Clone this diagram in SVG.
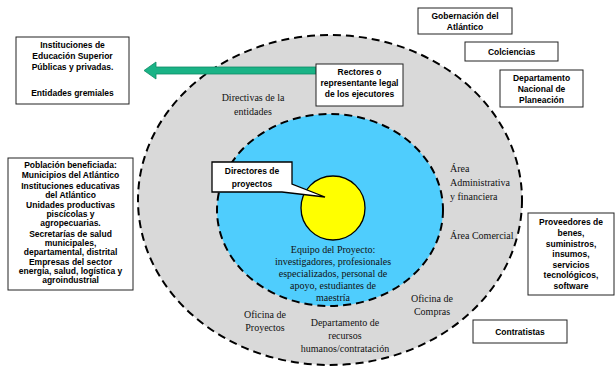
<svg xmlns="http://www.w3.org/2000/svg" width="616" height="368" viewBox="0 0 616 368">
<style>
.box{fill:#fff;stroke:#222;stroke-width:1}
.b{font-family:"Liberation Sans",Arial,sans-serif;font-weight:bold;font-size:8.5px;fill:#000;text-anchor:middle}
.s{font-family:"Liberation Serif","Times New Roman",serif;font-size:10px;fill:#111}
.m{text-anchor:middle}
</style>
<rect width="616" height="368" fill="#fff"/>
<g id="outer-ring">
<ellipse cx="330" cy="200" rx="192" ry="165" fill="#d9d9d9" stroke="#000" stroke-width="2" stroke-dasharray="8 5"/>
</g>
<g id="inner-ring">
<ellipse cx="330" cy="210" rx="113" ry="96" fill="#4fcdfd" stroke="#000" stroke-width="2" stroke-dasharray="8 5"/>
</g>
<g id="core">
<circle cx="333" cy="208" r="32" fill="#ffff00" stroke="#000" stroke-width="1.3"/>
</g>
<g id="connectors">
<path d="M316,67 L156,67 L156,62 L144,70.5 L156,79 L156,74 L316,74 Z" fill="#1ab386" stroke="#0e8a64" stroke-width="0.8"/>
</g>
<g id="directores">
<path d="M212,162 L292,162 L292,184 L325,197 L282,192 L212,192 Z" fill="#fff" stroke="#000" stroke-width="1.3"/>
<text class="b" x="252" y="174" font-size="10px">Directores de</text>
<text class="b" x="252" y="187" font-size="10px">proyectos</text>
</g>
<g id="rectores">
<rect class="box" x="316" y="64" width="87" height="42"/>
<text class="b" x="359.5" y="75">Rectores o</text>
<text class="b" x="359.5" y="86">representante legal</text>
<text class="b" x="359.5" y="97">de los ejecutores</text>
</g>
<g id="ies">
<rect class="box" x="16" y="37" width="113" height="67"/>
<text class="b" x="72.5" y="48">Instituciones de</text>
<text class="b" x="72.5" y="59">Educación Superior</text>
<text class="b" x="72.5" y="70">Públicas y privadas.</text>
<text class="b" x="72.5" y="96">Entidades gremiales</text>
</g>
<g id="poblacion">
<rect class="box" x="8" y="158" width="125" height="132"/>
<text class="b" x="70.5" y="168">Población beneficiada:</text>
<text class="b" x="70.5" y="178">Municipios del Atlántico</text>
<text class="b" x="70.5" y="188.5">Instituciones educativas</text>
<text class="b" x="70.5" y="197.5">del Atlántico</text>
<text class="b" x="70.5" y="208">Unidades productivas</text>
<text class="b" x="70.5" y="217">piscícolas y</text>
<text class="b" x="70.5" y="226">agropecuarias.</text>
<text class="b" x="70.5" y="236.5">Secretarías de salud</text>
<text class="b" x="70.5" y="245.5">municipales,</text>
<text class="b" x="70.5" y="254.5">departamental, distrital</text>
<text class="b" x="70.5" y="265">Empresas del sector</text>
<text class="b" x="70.5" y="274">energía, salud, logística y</text>
<text class="b" x="70.5" y="283">agroindustrial</text>
</g>
<g id="gobernacion">
<rect class="box" x="418" y="8" width="94" height="26"/>
<text class="b" x="465" y="19">Gobernación del</text>
<text class="b" x="465" y="30">Atlántico</text>
</g>
<g id="colciencias">
<rect class="box" x="465" y="42" width="93" height="19"/>
<text class="b" x="511.5" y="54.5">Colciencias</text>
</g>
<g id="dnp">
<rect class="box" x="500" y="70" width="83" height="37"/>
<text class="b" x="541.5" y="81">Departamento</text>
<text class="b" x="541.5" y="92">Nacional de</text>
<text class="b" x="541.5" y="103">Planeación</text>
</g>
<g id="proveedores">
<rect class="box" x="528" y="213" width="86" height="82"/>
<text class="b" x="571" y="225">Proveedores de</text>
<text class="b" x="571" y="236">benes,</text>
<text class="b" x="571" y="246.5">suministros,</text>
<text class="b" x="571" y="257">insumos,</text>
<text class="b" x="571" y="267.5">servicios</text>
<text class="b" x="571" y="278">tecnológicos,</text>
<text class="b" x="571" y="288.5">software</text>
</g>
<g id="contratistas">
<rect class="box" x="473" y="320" width="94" height="23"/>
<text class="b" x="520" y="335" font-size="9.5px">Contratistas</text>
</g>
<g id="labels">
<text class="s m" x="253" y="101">Directivas de la</text>
<text class="s m" x="253" y="115">entidades</text>
<text class="s" x="450" y="172">Área</text>
<text class="s" x="450" y="186">Administrativa</text>
<text class="s" x="450" y="200">y financiera</text>
<text class="s" x="450" y="239">Área Comercial</text>
<text class="s m" x="333" y="253">Equipo del Proyecto:</text>
<text class="s m" x="333" y="265">investigadores, profesionales</text>
<text class="s m" x="333" y="277">especializados, personal de</text>
<text class="s m" x="333" y="289">apoyo, estudiantes de</text>
<text class="s m" x="333" y="301">maestría</text>
<text class="s m" x="265" y="318">Oficina de</text>
<text class="s m" x="265" y="331">Proyectos</text>
<text class="s m" x="345" y="326">Departamento de</text>
<text class="s m" x="345" y="339">recursos</text>
<text class="s m" x="345" y="352">humanos/contratación</text>
<text class="s m" x="432" y="302">Oficina de</text>
<text class="s m" x="432" y="315">Compras</text>
</g>
</svg>
